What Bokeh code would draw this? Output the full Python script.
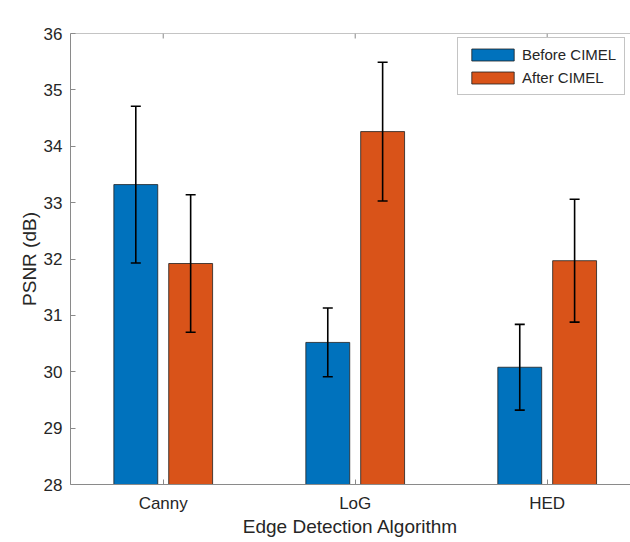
from bokeh.plotting import figure
from bokeh.models import (ColumnDataSource, Whisker, TeeHead, FixedTicker,
                          Label, Legend, LegendItem, Range1d, Span)
from bokeh.embed import file_html
from bokeh.resources import INLINE

categories = ["Canny", "LoG", "HED"]
before_mean = [33.32, 30.52, 30.08]
before_err = [1.39, 0.61, 0.76]
after_mean = [31.92, 34.26, 31.97]
after_err = [1.22, 1.23, 1.09]

FONT = "Liberation Sans"
TXT = "#262626"
AX = "#8a8a8a"
BLUE = "#0072BD"
ORANGE = "#D95319"

idx = [1, 2, 3]
off = 1.0 / 7.0
bw = 0.2286
y_lo, y_hi = 28, 36

p = figure(width=630, height=542, output_backend="svg", toolbar_location=None,
           x_range=Range1d(0.517, 3.434), y_range=Range1d(y_lo, y_hi),
           min_border_left=70, min_border_right=0, min_border_top=33, min_border_bottom=58)
p.outline_line_color = None
p.xgrid.visible = False
p.ygrid.visible = False
p.background_fill_color = "white"
p.border_fill_color = "white"

xb = [i - off for i in idx]
xa = [i + off for i in idx]

src_b = ColumnDataSource(dict(x=xb, top=before_mean,
                              upper=[m + e for m, e in zip(before_mean, before_err)],
                              lower=[m - e for m, e in zip(before_mean, before_err)]))
src_a = ColumnDataSource(dict(x=xa, top=after_mean,
                              upper=[m + e for m, e in zip(after_mean, after_err)],
                              lower=[m - e for m, e in zip(after_mean, after_err)]))

rb = p.vbar(x="x", top="top", bottom=y_lo, width=bw, source=src_b,
            fill_color=BLUE, line_color="#202020", line_width=0.8)
ra = p.vbar(x="x", top="top", bottom=y_lo, width=bw, source=src_a,
            fill_color=ORANGE, line_color="#202020", line_width=0.8)

for src in (src_b, src_a):
    w = Whisker(base="x", upper="upper", lower="lower", source=src, dimension="height",
                line_color="black", line_width=1.6, level="overlay",
                upper_head=TeeHead(size=10, line_color="black", line_width=1.6),
                lower_head=TeeHead(size=10, line_color="black", line_width=1.6))
    p.add_layout(w)

# box top line and inward ticks at top
p.add_layout(Span(location=y_hi, dimension="width", line_color=AX, line_width=1))
tick_len = (y_hi - y_lo) * 5.0 / 451.0
p.segment(x0=idx, x1=idx, y0=[y_hi] * 3, y1=[y_hi - tick_len] * 3,
          line_color=AX, line_width=1)

# axes
for ax in (p.xaxis[0], p.yaxis[0]):
    ax.axis_line_color = AX
    ax.major_tick_line_color = AX
    ax.minor_tick_line_color = None
    ax.major_tick_in = 5
    ax.major_tick_out = 0
    ax.major_label_text_font = FONT
    ax.major_label_text_font_size = "17px"
    ax.major_label_text_color = TXT
    ax.axis_label_text_font = FONT
    ax.axis_label_text_font_size = "19px"
    ax.axis_label_text_color = TXT
    ax.axis_label_text_font_style = "normal"

p.xaxis[0].ticker = FixedTicker(ticks=idx)
p.xaxis[0].major_label_overrides = {i: c for i, c in zip(idx, categories)}
p.xaxis[0].major_label_standoff = 9
p.xaxis[0].axis_label = "Edge Detection Algorithm"
p.xaxis[0].axis_label_standoff = 0

p.yaxis[0].ticker = FixedTicker(ticks=list(range(y_lo, y_hi + 1)))
p.yaxis[0].major_label_standoff = 8
p.yaxis[0].axis_label = "PSNR (dB)"
p.yaxis[0].axis_label_standoff = 1

title = Label(x=2, y=y_hi, y_offset=15, text="PSNR", text_align="center",
              text_baseline="middle", text_font=FONT, text_font_size="18px",
              text_font_style="bold", text_color="black")
p.add_layout(title)

legend = Legend(items=[LegendItem(label="Before CIMEL", renderers=[rb]),
                       LegendItem(label="After CIMEL", renderers=[ra])],
                location=(387, 389))
legend.glyph_width = 53
legend.glyph_height = 15
legend.label_height = 15
legend.label_standoff = 3
legend.spacing = 6
legend.padding = 8
legend.margin = 0
legend.label_text_font = FONT
legend.label_text_font_size = "15px"
legend.label_text_color = TXT
legend.border_line_color = "#8a8a8a"
legend.border_line_width = 1
legend.background_fill_color = "white"
legend.background_fill_alpha = 1
p.add_layout(legend)

open("out.html", "w").write(file_html(p, INLINE))
